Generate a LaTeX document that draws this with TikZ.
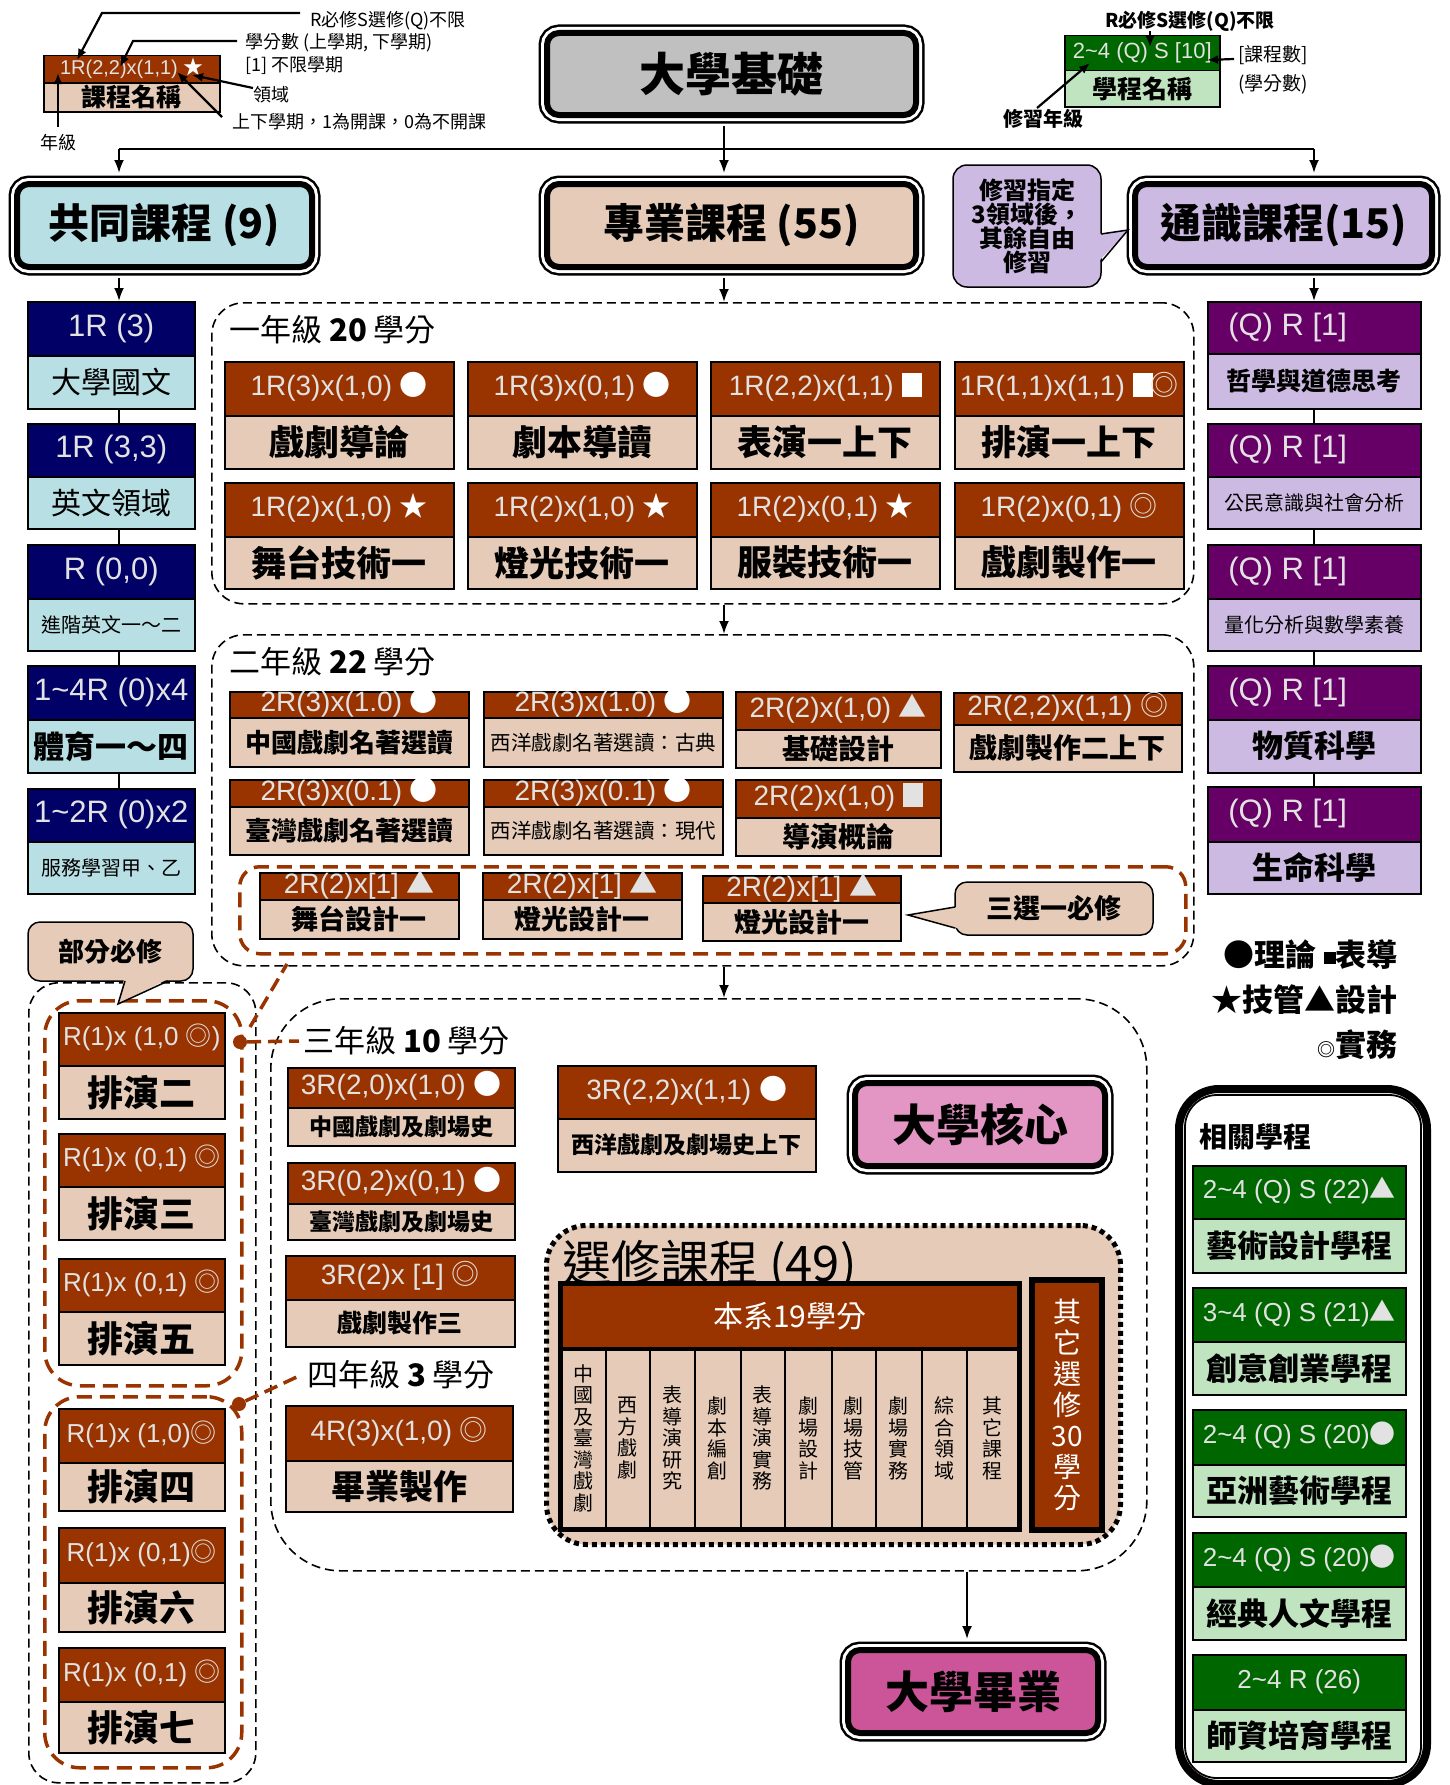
\documentclass[tikz,border=0pt]{standalone}
\usepackage{fontspec}
\setmainfont{Noto Sans CJK TC}
\newfontfamily\lat{Liberation Sans}
\newfontfamily\cjk{Noto Sans CJK TC}
\usetikzlibrary{arrows.meta,calc}
\definecolor{brn}{HTML}{993300}
\definecolor{bei}{HTML}{E6CCB8}
\definecolor{navy}{HTML}{000066}
\definecolor{cyl}{HTML}{B8DFE4}
\definecolor{purp}{HTML}{660066}
\definecolor{lav}{HTML}{CCBAE2}
\definecolor{grn}{HTML}{006600}
\definecolor{lgrn}{HTML}{BFE4BF}
\definecolor{pnk}{HTML}{E396C4}
\definecolor{dpnk}{HTML}{CC5599}
\definecolor{gry}{HTML}{C0C0C0}
\definecolor{htx}{HTML}{E2E2E2}
\newcommand\fsz[1]{\fontsize{#1}{#1}\selectfont}
\newcommand\tld{\textasciitilde}
\newcommand\Wc{{\cjk\color{white}●}}
\newcommand\Ws{{\cjk\color{white}★}}
\newcommand\Wt{{\cjk ▲}}
\newcommand\Wd{{\cjk ◎}}
\newcommand\Wg{{\cjk ●}}
\newcommand\Wsq{\textcolor{white}{\rule[-1pt]{20pt}{24pt}}}
\newcommand\Wsqg{\textcolor{htx}{\rule[-1pt]{20pt}{24pt}}}
\newcommand\QR{\makebox[172pt][l]{(Q) R [1]}}
\newcommand\cbox[9]{%
 \node[hdr, minimum width={#4-#2}, minimum height={#5-#3}] (#1h) at (#2,#3) {#7};
 \node[nm, minimum width={#4-#2}, minimum height={#6-#5}, font=#9] (#1n) at (#2,#5) {#8};}
\newcommand\ecol[4]{\node[ecl, minimum width={#3-#2}, minimum height=181] (#1) at (#2,1347) {#4};}
\begin{document}
\begin{tikzpicture}[x=1pt,y=-1pt,
 hdr/.style={draw=black, line width=1.5, fill=brn, text=htx, inner sep=0, anchor=north west, font=\lat\fsz{28}, text height=20, text depth=6},
 nm/.style={draw=black, line width=1.5, fill=bei, text=black, inner sep=0, anchor=north west},
 dbl/.style={draw=black, line width=6, rounded corners=12, inner sep=0, text=black, preaction={draw=black, line width=17}, preaction={draw=white, line width=12}},
 ln/.style={line width=2},
 arr/.style={ln, -{Latex[length=13,width=10]}},
 leg/.style={line width=2.2, -{Latex[length=11,width=9]}},
 lbl/.style={inner sep=0, font=\fsz{18}},
 rgn/.style={draw=black, line width=1.6, dash pattern=on 9pt off 5pt, rounded corners=32, inner sep=0, anchor=north west},
 bdr/.style={draw=brn, line width=3.5, dash pattern=on 15pt off 8pt, rounded corners=30, inner sep=0, anchor=north west},
 bdl/.style={draw=brn, line width=3.5, dash pattern=on 14pt off 7pt},
 evd/.style={draw=black, fill=bei, line width=5, dash pattern=on 5pt off 4pt, rounded corners=40, inner sep=0, anchor=north west},
 ecl/.style={draw=black, line width=1.5, fill=bei, inner sep=0, anchor=north west, align=center, font=\fontsize{20}{21.5}\selectfont},
 call/.style={draw=black, line width=1.5, rounded corners=12, inner sep=0, text=black}
]
\useasboundingbox (0,0) rectangle (1450,1785);
\fill[white] (0,0) rectangle (1450,1785);

% ---------- top-left legend ----------
\begin{scope}[hdr/.append style={font=\lat\fsz{20}, text height=15, text depth=4}]
\cbox{lg}{43}{55}{219}{82}{111}{1R(2,2)x(1,1) \Ws}{課程名稱}{\bfseries\fsz{25}}
\end{scope}
\node[lbl, anchor=west] (l1) at (310,21) {R必修S選修(Q)不限};
\node[lbl, anchor=west] (l2) at (245,43) {學分數 (上學期, 下學期)};
\node[lbl, anchor=west] (l3) at (245,66) {[1] 不限學期};
\node[lbl, anchor=west] (l4) at (253,95) {領域};
\node[lbl, anchor=west] (l5) at (232,122) {上下學期，1為開課，0為不開課};
\node[lbl, anchor=west] (l6) at (40,143) {年級};
\coordinate (t1) at (77,60);
\coordinate (t2) at (120,67);
\coordinate (t3) at (192,75);
\coordinate (t4) at (177,72);
\coordinate (t5) at (58,73);
\draw[leg] (300,13) -- (102,13) -- (t1);
\draw[leg] (237,41) -- (133,41) -- (t2);
\draw[leg] (253,88) -- (t3);
\draw[leg] (222,117) -- (t4);
\draw[leg] (58,127) -- (t5);

% ---------- top-right legend ----------
\begin{scope}[hdr/.append style={fill=grn, font=\lat\fsz{22}, text height=16, text depth=5}, nm/.append style={fill=lgrn}]
\cbox{lr}{1064}{35}{1219}{70}{106}{2\tld4 (Q) S [10]}{學程名稱}{\bfseries\fsz{25}}
\end{scope}
\node[lbl, font=\bfseries\fsz{19}] (m1) at (1190,21) {R必修S選修(Q)不限};
\node[lbl, anchor=west, font=\fsz{19}] (m2) at (1238,55) {[課程數]};
\node[lbl, anchor=west, font=\fsz{19}] (m3) at (1238,84) {(學分數)};
\node[lbl, font=\bfseries\fsz{20}] (m4) at (1043,119) {修習年級};
\coordinate (u1) at (1150,47);
\coordinate (u2) at (1207,60);
\coordinate (u3) at (1090,63);
\draw[leg] (1150,31) -- (u1);
\draw[leg] (m2.west) ++(-4,4) -- (u2);
\draw[leg] (1037,108) -- (u3);

% ---------- main top boxes ----------
\node[dbl, fill=gry, minimum width=369, minimum height=82, font=\bfseries\fsz{46}] (base) at (731.5,74) {大學基礎};
\node[dbl, fill=cyl, minimum width=295, minimum height=83, font=\bfseries\fsz{41}] (co) at (164.5,225.5) {共同課程 (9)};
\node[dbl, fill=bei, minimum width=369, minimum height=83, font=\bfseries\fsz{41}] (pro) at (731.5,225.5) {專業課程 (55)};
\node[dbl, fill=lav, minimum width=297, minimum height=83, font=\bfseries\fsz{41}] (gen) at (1283.5,225.5) {通識課程(15)};
\node[call, fill=lav, rounded corners=14, minimum width=148, minimum height=122, align=center, font=\bfseries\fontsize{24}{22}\selectfont] (bub) at (1027,226) {修習指定\\3領域後，\\其餘自由\\修習};
\fill[lav] (1098,234) -- (1128,230) -- (1098,262) -- cycle;
\draw[line width=1.5] (1101,234) -- (1128,230) -- (1101,262);

\coordinate (j0) at (724,149);
\coordinate (jL) at (119,149);
\coordinate (jR) at (1314,149);
\coordinate (gx) at (967,0);
\draw[ln] ($(base.south -| j0)+(0,8)$) -- (j0);
\draw[ln] (jL) -- (jR);
\draw[arr] (jL) -- ($(co.north -| jL)+(0,-8)$);
\draw[arr] (j0) -- ($(pro.north -| j0)+(0,-8)$);
\draw[arr] (jR) -- ($(gen.north -| jR)+(0,-8)$);

% ---------- left column ----------
\begin{scope}[hdr/.append style={fill=navy, font=\lat\fsz{31}, text height=22, text depth=7}, nm/.append style={fill=cyl}]
\cbox{c1}{27}{301}{194}{355}{408}{1R (3)}{大學國文}{\fsz{30}}
\cbox{c2}{27}{423}{194}{476}{528}{1R (3,3)}{英文領域}{\fsz{30}}
\cbox{c3}{27}{544}{194}{598}{650}{R (0,0)}{進階英文一～二}{\fsz{20}}
\cbox{c4}{27}{665}{194}{719}{772}{1\tld4R (0)x4}{體育一～四}{\bfseries\fsz{31}}
\cbox{c5}{27}{788}{194}{841}{893}{1\tld2R (0)x2}{服務學習甲、乙}{\fsz{20}}
\end{scope}
\draw[arr] ($(co.south -| jL)+(0,8)$) -- (c1h.north -| jL);
\draw[ln] (c1n.south -| jL) -- (c2h.north -| jL);
\draw[ln] (c2n.south -| jL) -- (c3h.north -| jL);
\draw[ln] (c3n.south -| jL) -- (c4h.north -| jL);
\draw[ln] (c4n.south -| jL) -- (c5h.north -| jL);

% ---------- right column ----------
\begin{scope}[hdr/.append style={fill=purp, font=\lat\fsz{31}, text height=22, text depth=7}, nm/.append style={fill=lav}]
\cbox{g1}{1207}{301}{1420}{353}{408}{\QR}{哲學與道德思考}{\bfseries\fsz{25}}
\cbox{g2}{1207}{423}{1420}{476}{528}{\QR}{公民意識與社會分析}{\fsz{20}}
\cbox{g3}{1207}{544}{1420}{598}{650}{\QR}{量化分析與數學素養}{\fsz{20}}
\cbox{g4}{1207}{665}{1420}{719}{772}{\QR}{物質科學}{\bfseries\fsz{31}}
\cbox{g5}{1207}{786}{1420}{841}{893}{\QR}{生命科學}{\bfseries\fsz{31}}
\end{scope}
\draw[arr] ($(gen.south -| jR)+(0,8)$) -- (g1h.north -| jR);
\draw[ln] (g1n.south -| jR) -- (g2h.north -| jR);
\draw[ln] (g2n.south -| jR) -- (g3h.north -| jR);
\draw[ln] (g3n.south -| jR) -- (g4h.north -| jR);
\draw[ln] (g4n.south -| jR) -- (g5h.north -| jR);

% ---------- first year ----------
\node[rgn, minimum width=982, minimum height=301] (y1) at (211,302) {};
\node[anchor=west, inner sep=0, font=\fsz{31}] (y1l) at (229,330) {一年級 \textbf{20} 學分};
\cbox{a1}{224}{361}{453}{415}{468}{1R(3)x(1,0) \Wc}{戲劇導論}{\bfseries\fsz{35}}
\cbox{a2}{467}{361}{696}{415}{468}{1R(3)x(0,1) \Wc}{劇本導讀}{\bfseries\fsz{35}}
\cbox{a3}{710}{361}{939}{415}{468}{1R(2,2)x(1,1) \Wsq}{表演一上下}{\bfseries\fsz{35}}
\cbox{a4}{954}{361}{1183}{415}{468}{1R(1,1)x(1,1) \Wsq\hspace{-2pt}\Wd}{排演一上下}{\bfseries\fsz{35}}
\cbox{a5}{224}{482}{453}{536}{588}{1R(2)x(1,0) \Ws}{舞台技術一}{\bfseries\fsz{35}}
\cbox{a6}{467}{482}{696}{536}{588}{1R(2)x(1,0) \Ws}{燈光技術一}{\bfseries\fsz{35}}
\cbox{a7}{710}{482}{939}{536}{588}{1R(2)x(0,1) \Ws}{服裝技術一}{\bfseries\fsz{35}}
\cbox{a8}{954}{482}{1183}{536}{588}{1R(2)x(0,1) \Wd}{戲劇製作一}{\bfseries\fsz{35}}
\draw[arr] ($(pro.south -| j0)+(0,8)$) -- (y1.north -| j0);

% ---------- second year ----------
\node[rgn, minimum width=982, minimum height=331] (y2) at (211,634) {};
\node[anchor=west, inner sep=0, font=\fsz{31}] (y2l) at (229,662) {二年級 \textbf{22} 學分};
\draw[arr] (y1.south -| j0) -- (y2.north -| j0);
\cbox{b1}{229}{691}{468}{717}{766}{2R(3)x(1.0) \Wc}{中國戲劇名著選讀}{\bfseries\fsz{26}}
\cbox{b2}{483}{691}{722}{717}{766}{2R(3)x(1.0) \Wc}{西洋戲劇名著選讀：古典}{\fsz{20.5}}
\cbox{b3}{735}{691}{940}{729}{767}{2R(2)x(1,0) \Wt}{基礎設計}{\bfseries\fsz{28}}
\cbox{b4}{953}{692}{1181}{724}{771}{2R(2,2)x(1,1) \Wd}{戲劇製作二上下}{\bfseries\fsz{28}}
\cbox{b5}{229}{779}{468}{806}{854}{2R(3)x(0.1) \Wc}{臺灣戲劇名著選讀}{\bfseries\fsz{26}}
\cbox{b6}{483}{779}{722}{806}{854}{2R(3)x(0.1) \Wc}{西洋戲劇名著選讀：現代}{\fsz{20.5}}
\cbox{b7}{735}{779}{940}{817}{855}{2R(2)x(1,0) \Wsqg}{導演概論}{\bfseries\fsz{28}}
\node[bdr, rounded corners=20, minimum width=946, minimum height=87] (bd) at (238,865) {};
\cbox{b8}{259}{872}{458}{899}{938}{2R(2)x[1] \Wt}{舞台設計一}{\bfseries\fsz{27}}
\cbox{b9}{482}{872}{681}{899}{938}{2R(2)x[1] \Wt}{燈光設計一}{\bfseries\fsz{27}}
\cbox{b10}{702}{875}{900}{902}{940}{2R(2)x[1] \Wt}{燈光設計一}{\bfseries\fsz{27}}
\node[call, fill=bei, minimum width=198, minimum height=53, font=\bfseries\fsz{27}] (cs) at (1054,908.5) {三選一必修};
\fill[bei] (957,907) -- (908,915) -- (957,928) -- cycle;
\draw[line width=1.5] (955,907) -- (908,915) -- (955,928);

% ---------- third / fourth year ----------
\node[rgn, rounded corners=70, minimum width=876, minimum height=572] (y3) at (270,998) {};
\draw[arr] (y2.south -| j0) -- (y3.north -| j0);
\node[anchor=west, inner sep=0, font=\fsz{31}] (y3l) at (303,1041) {三年級 \textbf{10} 學分};
\node[anchor=west, inner sep=0, font=\fsz{31}] (y4l) at (307,1375) {四年級 \textbf{3} 學分};
\cbox{d1}{287}{1067}{514}{1107}{1145}{3R(2,0)x(1,0) \Wc}{中國戲劇及劇場史}{\bfseries\fsz{23}}
\cbox{d2}{287}{1162}{514}{1203}{1239}{3R(0,2)x(0,1) \Wc}{臺灣戲劇及劇場史}{\bfseries\fsz{23}}
\cbox{d3}{285}{1255}{514}{1299}{1346}{3R(2)x [1] \Wd}{戲劇製作三}{\bfseries\fsz{25}}
\cbox{d5}{557}{1065}{815}{1118}{1171}{3R(2,2)x(1,1) \Wc}{西洋戲劇及劇場史上下}{\bfseries\fsz{23}}
\cbox{d4}{285}{1405}{512}{1460}{1511}{4R(3)x(1,0) \Wd}{畢業製作}{\bfseries\fsz{34}}
\node[dbl, fill=pnk, minimum width=250, minimum height=83, font=\bfseries\fsz{44}] (core) at (980,1124.5) {大學核心};

% electives
\node[evd, minimum width=574, minimum height=319] (ev) at (544,1223) {};
\node[anchor=west, inner sep=0, font=\fsz{49}] (evt) at (562,1266) {選修課程 (49)};
\node[draw=black, line width=1.5, fill=brn, text=white, inner sep=0, anchor=north west, minimum width=458, minimum height=64, font=\fsz{30}] (dep) at (560,1283) {本系19學分};
\ecol{e1}{560}{605}{中\\國\\及\\臺\\灣\\戲\\劇}
\ecol{e2}{605}{649}{西\\方\\戲\\劇}
\ecol{e3}{649}{694}{表\\導\\演\\研\\究}
\ecol{e4}{694}{740}{劇\\本\\編\\創}
\ecol{e5}{740}{784}{表\\導\\演\\實\\務}
\ecol{e6}{784}{831}{劇\\場\\設\\計}
\ecol{e7}{831}{875}{劇\\場\\技\\管}
\ecol{e8}{875}{921}{劇\\場\\實\\務}
\ecol{e9}{921}{966}{綜\\合\\領\\域}
\ecol{e10}{966}{1018}{其\\它\\課\\程}
\draw[line width=5] (dep.north west) rectangle (e10.south east);
\draw[line width=4] (dep.south west) -- (dep.south east);
\node[draw=black, line width=6, fill=brn, text=white, inner sep=0, anchor=north west, minimum width=70, minimum height=250, align=center, font=\fontsize{28}{31}\selectfont] (oth) at (1029,1277) {其\\它\\選\\修\\30\\學\\分};

% graduation
\node[dbl, fill=dpnk, minimum width=250, minimum height=83, font=\bfseries\fsz{44}] (grad) at (973,1691.5) {大學畢業};
\draw[arr] (y3.south -| gx) -- ($(grad.north -| gx)+(0,-8)$);

% ---------- left groups ----------
\node[rgn, rounded corners=30, minimum width=227, minimum height=800] (lb) at (28,982) {};
\node[bdr, rounded corners=35, minimum width=197, minimum height=385] (gg1) at (43,999) {};
\node[bdr, rounded corners=35, minimum width=197, minimum height=371] (gg2) at (43,1395) {};
\node[call, fill=bei, minimum width=165, minimum height=59, font=\bfseries\fsz{26}] (pb) at (110.5,951.5) {部分必修};
\fill[bei] (124,979) -- (118,1004) -- (168,979) -- cycle;
\draw[line width=1.5] (125,981) -- (118,1004) -- (168,981);
\begin{scope}[hdr/.append style={font=\lat\fsz{26}, text height=19, text depth=6}]
\cbox{p2}{58}{1012}{224}{1065}{1118}{R(1)x (1,0 \Wd)}{排演二}{\bfseries\fsz{36}}
\cbox{p3}{58}{1133}{224}{1186}{1239}{R(1)x (0,1) \Wd}{排演三}{\bfseries\fsz{36}}
\cbox{p5}{58}{1258}{224}{1311}{1364}{R(1)x (0,1) \Wd}{排演五}{\bfseries\fsz{36}}
\cbox{p4}{58}{1408}{224}{1462}{1510}{R(1)x (1,0)\Wd}{排演四}{\bfseries\fsz{36}}
\cbox{p6}{58}{1527}{224}{1582}{1631}{R(1)x (0,1)\Wd}{排演六}{\bfseries\fsz{36}}
\cbox{p7}{58}{1647}{224}{1701}{1752}{R(1)x (0,1) \Wd}{排演七}{\bfseries\fsz{36}}
\end{scope}
\node[circle, fill=brn, inner sep=0, minimum size=14] (dt1) at (240,1042) {};
\node[circle, fill=brn, inner sep=0, minimum size=14] (dt2) at (239,1404) {};
\coordinate (q1) at (250,1027);
\coordinate (q2) at (287,964);
\draw[bdl] (dt1) -- ($(y3l.west)+(-4,0)$);
\draw[bdl] (q1) -- (q2);
\draw[bdl] (dt2) -- ($(y4l.west)+(-6,0)$);

% ---------- symbol legend ----------
\node[anchor=east, inner sep=0, font=\bfseries\fsz{31}] (k1) at (1398,955) {●理論 \rule[3pt]{12pt}{12pt}表導};
\node[anchor=east, inner sep=0, font=\bfseries\fsz{31}] (k2) at (1398,1000) {★技管▲設計};
\node[anchor=east, inner sep=0, font=\bfseries\fsz{31}] (k3) at (1398,1045) {{\fsz{18}◎}實務};

% ---------- related programs ----------
\node[draw=black, line width=8, rounded corners=40, minimum width=248, minimum height=695, inner sep=0, anchor=north west] (rel) at (1175,1085) {};
\draw[line width=1.8, rounded corners=32] ($(rel.north west)+(10,10)$) rectangle ($(rel.south east)+(-10,-10)$);
\node[anchor=west, inner sep=0, font=\bfseries\fsz{28}] (relt) at (1199,1137) {相關學程};
\begin{scope}[hdr/.append style={fill=grn, font=\lat\fsz{26}, text height=19, text depth=6}, nm/.append style={fill=lgrn}]
\cbox{r1}{1192}{1165}{1405}{1218}{1272}{2\tld4 (Q) S (22)\Wt}{藝術設計學程}{\bfseries\fsz{31}}
\cbox{r2}{1192}{1287}{1405}{1341}{1394}{3\tld4 (Q) S (21)\Wt}{創意創業學程}{\bfseries\fsz{31}}
\cbox{r3}{1192}{1409}{1405}{1464}{1516}{2\tld4 (Q) S (20)\Wg}{亞洲藝術學程}{\bfseries\fsz{31}}
\cbox{r4}{1192}{1532}{1405}{1586}{1639}{2\tld4 (Q) S (20)\Wg}{經典人文學程}{\bfseries\fsz{31}}
\cbox{r5}{1192}{1654}{1405}{1709}{1761}{2\tld4 R (26)}{師資培育學程}{\bfseries\fsz{31}}
\end{scope}
\end{tikzpicture}
\end{document}
